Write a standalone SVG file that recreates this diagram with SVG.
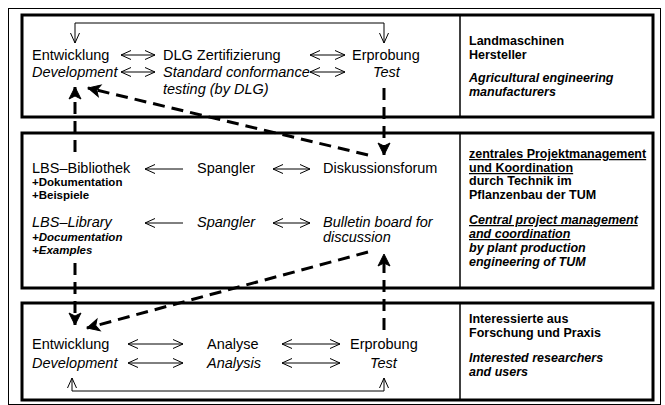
<svg xmlns="http://www.w3.org/2000/svg" width="665" height="405" viewBox="0 0 665 405">
<style>
.t{font-family:"Liberation Sans","DejaVu Sans",sans-serif;font-size:14.5px;fill:#000}
.i{font-style:italic}
.s{font-size:11.5px;font-weight:bold}
.r{font-family:"Liberation Sans",Arial,sans-serif;font-size:12.5px;font-weight:bold;fill:#000}
.u{text-decoration:underline}
.box{fill:none;stroke:#000;stroke-width:3}
.div{stroke:#000;stroke-width:1.5}
.thin{fill:none;stroke:#000;stroke-width:1}
.dbl{fill:none;stroke:#000;stroke-width:1;marker-start:url(#oa);marker-end:url(#oa)}
.lft{fill:none;stroke:#000;stroke-width:1;marker-start:url(#oa)}
.dash{fill:none;stroke:#000;stroke-width:3;stroke-dasharray:12 7;marker-end:url(#fa)}
</style>
<defs>
<marker id="oa" markerUnits="userSpaceOnUse" markerWidth="12" markerHeight="10" refX="10" refY="4.5" orient="auto-start-reverse" overflow="visible">
<path d="M0,0 L10,4.5 L0,9" fill="none" stroke="#000" stroke-width="1"/>
</marker>
<marker id="fa" markerUnits="userSpaceOnUse" markerWidth="14" markerHeight="12" refX="12" refY="6" orient="auto" overflow="visible">
<path d="M0,0 L12,6 L0,12 L3,6 z" fill="#000" stroke="#000" stroke-width="1"/>
</marker>
</defs>
<rect x="8.5" y="8.5" width="652" height="396" fill="none" stroke="#000" stroke-width="1"/>
<g id="top-box">
<rect class="box" x="22" y="15" width="631" height="102"/>
<line class="div" x1="460" y1="15" x2="460" y2="117"/>
<text class="t" x="32" y="60">Entwicklung</text>
<text class="t i" x="32" y="77">Development</text>
<text class="t" x="163" y="60">DLG Zertifizierung</text>
<text class="t i" x="163" y="77">Standard conformance</text>
<text class="t i" x="163" y="94">testing (by DLG)</text>
<text class="t" x="352" y="60">Erprobung</text>
<text class="t i" x="373" y="77">Test</text>
<text class="r" x="469" y="45">Landmaschinen</text>
<text class="r" x="469" y="59">Hersteller</text>
<text class="r i" x="469" y="82">Agricultural engineering</text>
<text class="r i" x="469" y="96">manufacturers</text>
</g>
<g id="middle-box">
<rect class="box" x="22" y="133" width="631" height="155"/>
<line class="div" x1="460" y1="133" x2="460" y2="288"/>
<text class="t" x="32" y="173">LBS–Bibliothek</text>
<text class="t s" x="32" y="185.5">+Dokumentation</text>
<text class="t s" x="32" y="199">+Beispiele</text>
<text class="t i" x="32" y="227">LBS–Library</text>
<text class="t s i" x="32" y="240.5">+Documentation</text>
<text class="t s i" x="32" y="254">+Examples</text>
<text class="t" x="197" y="173">Spangler</text>
<text class="t i" x="197" y="227">Spangler</text>
<text class="t" x="323" y="173">Diskussionsforum</text>
<text class="t i" x="323" y="227">Bulletin board for</text>
<text class="t i" x="323" y="242">discussion</text>
<text class="r u" x="469" y="158">zentrales Projektmanagement</text>
<text class="r u" x="469" y="172">und Koordination</text>
<text class="r" x="469" y="185">durch Technik im</text>
<text class="r" x="469" y="199">Pflanzenbau der TUM</text>
<text class="r i u" x="469" y="224">Central project management</text>
<text class="r i u" x="469" y="238">and coordination</text>
<text class="r i" x="469" y="252">by plant production</text>
<text class="r i" x="469" y="266">engineering of TUM</text>
</g>
<g id="bottom-box">
<rect class="box" x="22" y="303" width="631" height="97"/>
<line class="div" x1="460" y1="303" x2="460" y2="400"/>
<text class="t" x="32" y="349">Entwicklung</text>
<text class="t i" x="32" y="368">Development</text>
<text class="t" x="207" y="349">Analyse</text>
<text class="t i" x="207" y="368">Analysis</text>
<text class="t" x="350" y="349">Erprobung</text>
<text class="t i" x="370" y="368">Test</text>
<text class="r" x="469" y="323">Interessierte aus</text>
<text class="r" x="469" y="337">Forschung und Praxis</text>
<text class="r i" x="469" y="362">Interested researchers</text>
<text class="r i" x="469" y="376">and users</text>
</g>
<g id="connectors">
<line class="dbl" x1="121" y1="55" x2="155" y2="55"/>
<line class="dbl" x1="121" y1="72" x2="155" y2="72"/>
<line class="dbl" x1="310" y1="55" x2="345" y2="55"/>
<line class="dbl" x1="310" y1="72" x2="345" y2="72"/>
<path class="thin" d="M75,43 V23 H384 V43" style="marker-start:url(#oa);marker-end:url(#oa)"/>
<line class="lft" x1="145" y1="169" x2="183" y2="169"/>
<line class="lft" x1="145" y1="223" x2="183" y2="223"/>
<line class="dbl" x1="273" y1="169" x2="310" y2="169"/>
<line class="dbl" x1="273" y1="223" x2="310" y2="223"/>
<line class="dbl" x1="128" y1="344" x2="183" y2="344"/>
<line class="dbl" x1="128" y1="363" x2="183" y2="363"/>
<line class="dbl" x1="282" y1="344" x2="340" y2="344"/>
<line class="dbl" x1="282" y1="363" x2="340" y2="363"/>
<path class="thin" d="M72,378 V391 H384 V378" style="marker-start:url(#oa);marker-end:url(#oa)"/>
<line class="dash" x1="75" y1="152" x2="75" y2="87"/>
<line class="dash" x1="368" y1="155" x2="88" y2="88"/>
<line class="dash" x1="384" y1="88" x2="384" y2="155"/>
<line class="dash" x1="368" y1="252" x2="87" y2="328"/>
<line class="dash" x1="75" y1="263" x2="75" y2="325"/>
<line class="dash" x1="384" y1="330" x2="384" y2="254"/>
</g>
</svg>
